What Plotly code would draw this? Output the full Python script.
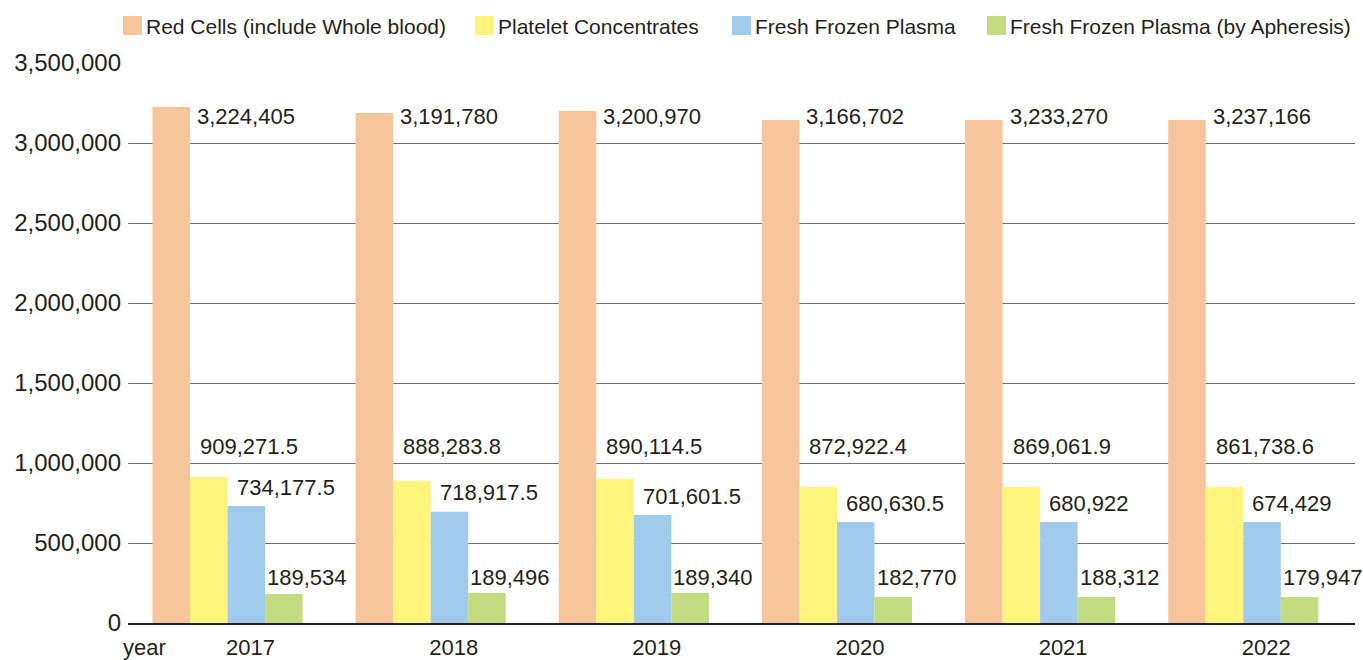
import plotly.graph_objects as go

# ---- data ----
years = ["2017", "2018", "2019", "2020", "2021", "2022"]
series_names = [
    "Red Cells (include Whole blood)",
    "Platelet Concentrates",
    "Fresh Frozen Plasma",
    "Fresh Frozen Plasma (by Apheresis)",
]
# bar heights as drawn in the picture
red_cells = [3225000, 3187500, 3200000, 3143750, 3143750, 3143750]
platelets = [912500, 887500, 900000, 850000, 850000, 850000]
ffp = [731250, 695600, 675000, 631250, 631250, 631250]
ffp_apheresis = [181250, 187500, 187500, 162500, 162500, 162500]
# value labels printed next to the bars
red_labels = ["3,224,405", "3,191,780", "3,200,970", "3,166,702", "3,233,270", "3,237,166"]
platelet_labels = ["909,271.5", "888,283.8", "890,114.5", "872,922.4", "869,061.9", "861,738.6"]
ffp_labels = ["734,177.5", "718,917.5", "701,601.5", "680,630.5", "680,922", "674,429"]
ffp_aph_labels = ["189,534", "189,496", "189,340", "182,770", "188,312", "179,947"]
y_tick_vals = [0, 500000, 1000000, 1500000, 2000000, 2500000, 3000000, 3500000]

colors = ["#F7C59B", "#FFF57D", "#A1CBEC", "#C3DC82"]
FONT = "Liberation Sans"
TXT = "#231f20"

W, H = 1363, 660
ML, MR, MT, MB = 128, 8, 63, 37
PW = W - ML - MR
PH = H - MT - MB

BARGAP = 0.261
bw = (1 - BARGAP) / 4  # width of one bar in category units

xs = list(range(len(years)))
values = [red_cells, platelets, ffp, ffp_apheresis]
labels = [red_labels, platelet_labels, ffp_labels, ffp_aph_labels]

fig = go.Figure()
for name, vals, col in zip(series_names, values, colors):
    fig.add_trace(go.Bar(x=xs, y=vals, name=name, marker=dict(color=col, line=dict(width=0)),
                         showlegend=False, hoverinfo="skip"))

# value label placement:
# (x offset in bar widths, xshift px, yshift px, aligned in one row at series max?)
label_pos = [(-1.0, 5, -9.5, True), (-1.0, 8, 30.5, True), (0.0, 7, 19, False), (1.0, 0, 16, True)]
annotations = []
for vals, labs, (xo, xsh, ysh, row) in zip(values, labels, label_pos):
    for i, (v, t) in enumerate(zip(vals, labs)):
        yv = max(vals) if row else v
        annotations.append(dict(x=i + xo * bw, y=yv, xref="x", yref="y", text=t, showarrow=False,
                                xanchor="left", yanchor="middle", xshift=xsh, yshift=ysh,
                                font=dict(family=FONT, size=22, color=TXT)))

def px2paper_x(px):
    return (px - ML) / PW

def px2paper_y(py):
    return 1 - (py - MT) / PH

# custom legend (swatches + text)
legend_px = [123, 475, 732, 987]
shapes = []
for lx, col, name in zip(legend_px, colors, series_names):
    shapes.append(dict(type="rect", xref="paper", yref="paper",
                       x0=px2paper_x(lx), x1=px2paper_x(lx + 19),
                       y0=px2paper_y(35), y1=px2paper_y(16),
                       fillcolor=col, line=dict(width=0)))
    annotations.append(dict(x=px2paper_x(lx + 21), y=px2paper_y(26), xref="paper", yref="paper",
                            text=name, showarrow=False, xanchor="left", yanchor="middle",
                            font=dict(family=FONT, size=21, color=TXT)))

annotations.append(dict(x=px2paper_x(121), y=0, xref="paper", yref="paper", text="year",
                        showarrow=False, xanchor="left", yanchor="middle", yshift=-24,
                        font=dict(family=FONT, size=22, color=TXT)))

fig.update_layout(
    width=W, height=H,
    margin=dict(l=ML, r=MR, t=MT, b=MB, autoexpand=False),
    barmode="group", bargap=BARGAP, bargroupgap=0,
    paper_bgcolor="white", plot_bgcolor="white",
    font=dict(family=FONT, color=TXT),
    shapes=shapes, annotations=annotations,
    xaxis=dict(range=[-0.49, 5.55], tickmode="array", tickvals=xs, ticktext=years,
               tickfont=dict(family=FONT, size=22, color=TXT), ticks="",
               ticklabelshift=23, ticklabelstandoff=4, automargin=False,
               showgrid=False, zeroline=False, showline=True, linecolor="#231f20",
               linewidth=1.5, layer="above traces", fixedrange=True),
    yaxis=dict(range=[0, 3500000], tickmode="array", tickvals=y_tick_vals, tickformat=",",
               tickfont=dict(family=FONT, size=24, color=TXT), ticks="",
               ticklabelstandoff=6, automargin=False,
               showgrid=True, gridcolor="#707070", gridwidth=1.4, zeroline=False,
               showline=False, fixedrange=True),
)

fig.write_html(
    "out.html",
    config={"displayModeBar": False},
    post_script="document.body.style.margin='0';document.body.style.overflow='hidden';",
)
